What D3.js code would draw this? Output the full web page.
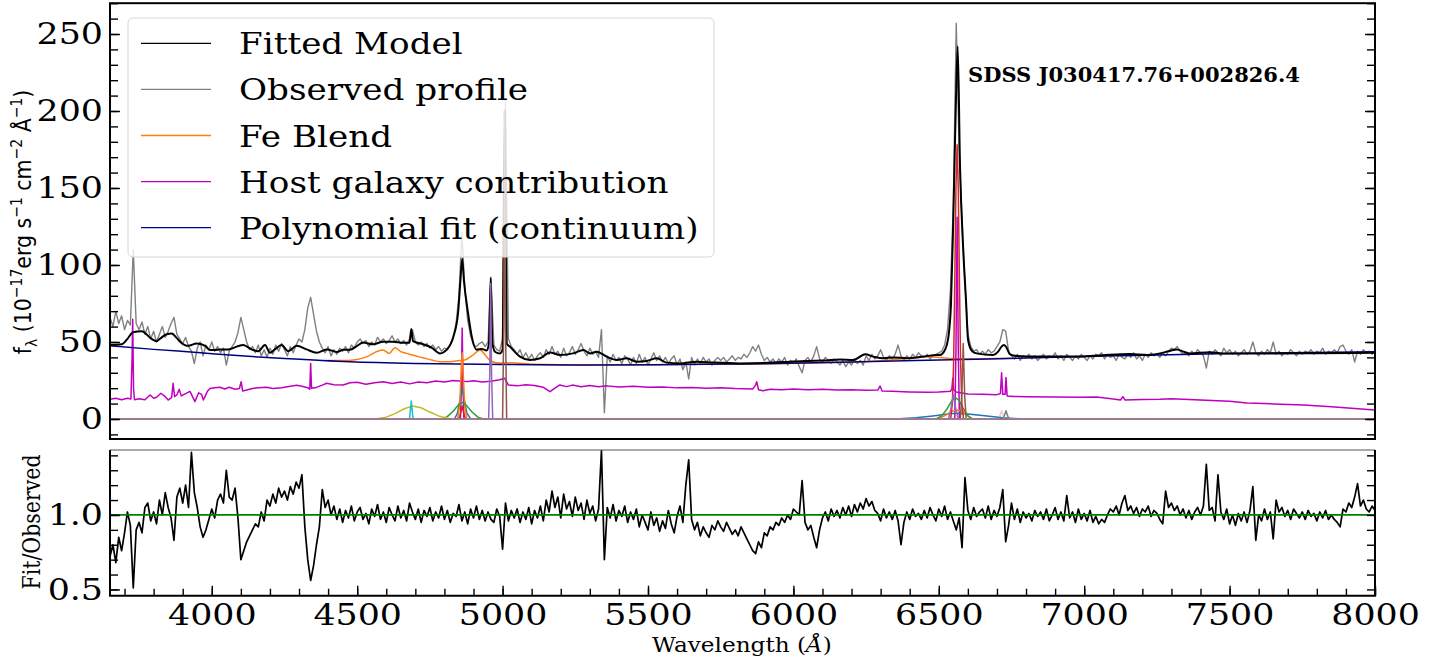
<!DOCTYPE html>
<html>
<head>
<meta charset="utf-8">
<script src="https://cdn.jsdelivr.net/npm/d3@7"></script>
<style>
  body { margin: 0; background: #fff; }
  text { fill: #000; }
</style>
</head>
<body>
<svg id="chart" width="1443" height="664"></svg>
<script>
// ---- Spectrum of SDSS J030417.76+002826.4: observed flux, fitted model and components ----

// Observed flux (1e-17 erg/s/cm2/A), sampled every 10 A from 3650 A
const obsStart = 3650, obsStep = 10;
const observedFlux = [
  66,60,70,62,67,58,64,61,110,62,
  58,63,55,60,52,57,50,55,60,53,
  57,62,66,55,52,49,53,47,44,36,
  46,50,41,48,45,50,44,47,43,46,
  35,44,47,50,56,66,58,50,45,47,
  43,48,41,45,40,46,42,48,44,49,
  45,41,47,43,48,52,50,58,72,79,
  68,57,50,46,43,47,41,45,42,46,
  44,47,43,48,46,50,52,49,51,47,
  50,48,53,50,52,49,51,54,50,52,
  49,51,48,52,58,50,48,50,47,49,
  46,48,45,47,44,46,45,48,53,62,
  80,121,85,64,54,48,47,49,50,47,
  50,92,48,45,44,52,208,52,47,45,
  42,45,40,43,39,42,38,41,43,40,
  45,42,47,42,44,40,46,41,43,47,
  42,45,49,44,41,46,42,44,40,58,
  4,41,37,42,38,40,36,41,39,35,
  40,36,42,37,40,35,39,43,38,41,
  37,40,36,39,41,35,39,32,37,26,
  40,35,39,36,40,37,39,35,38,40,
  38,40,37,39,41,38,40,39,42,40,
  43,47,44,48,42,38,40,37,39,36,
  39,37,40,35,38,36,39,34,30,38,
  40,37,41,47,39,37,40,38,36,39,
  37,35,38,34,37,35,39,36,38,35,
  41,38,42,39,41,45,40,38,41,39,
  42,48,41,38,41,39,42,40,43,41,
  40,42,39,41,42,43,44,48,58,84,
  140,257,175,128,88,55,47,44,45,42,
  44,42,45,43,44,47,50,58,57,44,
  41,39,42,38,41,40,42,39,41,38,
  40,42,39,41,40,43,39,41,38,42,
  40,38,41,39,42,40,38,41,39,42,
  41,43,39,42,40,41,38,42,40,39,
  42,40,43,39,41,38,42,40,43,41,
  42,40,43,41,44,46,45,47,44,42,
  43,41,44,42,45,43,41,33,44,42,
  45,43,41,46,43,45,42,44,41,43,
  45,42,44,50,43,41,44,42,45,43,
  50,42,44,41,43,42,45,43,41,44,
  42,44,43,45,42,44,43,46,42,44,
  43,45,43,47,48,44,42,45,37,44,
  42,45,43,44,42,44
];

// Fit / observed ratio on the same wavelength grid
const fitRatio = [
  0.72,0.80,0.68,0.85,0.76,0.88,1.02,0.93,0.51,0.90,
  0.95,0.88,1.05,1.08,0.96,1.02,0.94,1.10,1.00,1.15,
  1.05,0.98,0.83,1.12,1.18,1.08,1.20,1.05,1.42,1.15,
  1.05,0.92,0.85,0.90,0.97,1.04,0.98,1.10,1.14,1.08,
  1.30,1.12,1.10,1.18,0.98,0.70,0.76,0.82,0.86,0.90,
  0.94,0.92,1.02,0.96,1.10,1.06,1.14,1.08,1.18,1.12,
  1.16,1.10,1.19,1.14,1.22,1.18,1.27,0.92,0.70,0.56,
  0.66,0.80,0.92,1.17,1.05,1.10,1.00,1.06,0.97,1.04,
  0.95,1.03,0.98,1.06,0.96,1.02,1.05,0.97,1.01,0.94,
  1.04,0.99,1.07,0.97,1.02,0.95,1.05,1.00,0.96,1.06,
  0.98,1.03,0.96,1.08,1.02,0.97,1.04,0.95,1.03,0.99,
  1.05,0.96,1.02,0.98,1.06,0.97,1.03,0.95,1.01,0.99,
  1.07,0.96,1.02,0.94,1.04,0.98,1.06,0.97,1.03,0.96,
  1.02,0.97,0.95,1.04,0.99,0.77,1.08,0.96,1.03,0.98,
  1.04,0.95,1.02,0.97,1.05,0.94,1.03,0.98,1.06,0.96,
  1.10,1.02,1.16,1.05,1.12,0.98,1.14,1.04,1.09,0.99,
  1.12,1.03,1.08,0.97,1.10,1.01,1.06,0.96,1.04,1.436,
  0.70,1.05,0.98,1.07,0.96,1.03,0.99,1.06,0.95,1.02,
  0.97,1.04,0.92,1.00,0.95,0.90,1.02,0.93,0.98,0.89,
  0.96,0.91,1.03,0.94,0.88,0.99,1.06,0.95,1.20,1.37,
  0.97,0.90,0.95,0.86,0.92,0.88,0.85,0.93,0.90,0.96,
  0.92,0.89,0.95,0.91,0.87,0.90,0.86,0.92,0.88,0.84,
  0.80,0.76,0.74,0.82,0.78,0.88,0.86,0.92,0.90,0.95,
  0.93,0.98,0.95,1.00,0.97,1.04,1.02,1.00,1.23,0.95,
  0.90,0.93,0.85,0.78,0.90,0.98,1.02,0.96,1.04,0.99,
  1.03,0.98,1.05,1.00,1.06,0.99,1.07,1.02,1.08,1.04,
  1.11,1.06,1.09,1.03,1.01,0.96,1.04,0.98,1.02,0.97,
  1.03,0.96,0.80,0.95,1.02,0.97,1.04,0.99,1.01,0.97,
  1.03,0.98,1.05,1.00,0.96,1.04,0.99,1.06,0.97,1.02,
  0.96,0.90,0.98,0.78,1.25,1.03,0.97,1.05,0.99,1.02,
  1.04,0.98,1.06,0.97,1.03,0.99,1.05,1.17,0.82,0.93,
  1.08,0.97,1.04,0.95,1.02,0.98,1.01,0.96,1.03,0.99,
  1.02,0.97,1.04,0.96,1.00,1.05,0.97,1.02,0.96,1.13,
  0.98,1.02,0.95,1.04,0.97,1.01,0.96,1.03,0.95,0.99,
  0.94,0.97,0.95,1.00,1.04,1.02,1.06,1.00,1.08,1.13,
  1.03,1.06,1.01,1.05,0.99,1.04,1.02,1.06,0.99,1.03,
  1.01,0.97,0.94,1.16,1.05,1.08,1.03,1.06,1.00,1.04,
  0.98,1.03,0.97,1.02,1.05,1.00,1.06,1.34,1.03,1.05,
  0.96,1.27,1.02,0.97,1.04,0.94,1.00,0.93,1.01,0.96,
  1.02,0.95,1.03,1.19,0.83,1.00,0.96,1.04,0.97,1.02,
  0.84,1.10,1.02,1.05,0.99,1.03,0.97,1.04,1.01,0.98,
  1.02,0.97,1.03,0.99,1.01,0.96,1.02,0.98,1.03,0.97,
  1.00,0.97,0.95,0.92,1.04,1.02,1.08,1.05,1.12,1.21,
  1.06,1.10,1.04,1.02,1.06,1.03
];

// Fitted model [wavelength, flux]
const fittedModel = [
  [3650,48],[3690,48.5],[3710,52],[3729,56.3],[3759,57],[3793,52],[3810,50.5],[3821,52],
  [3845,55],[3862,55.5],[3880,52.5],[3891,50.2],[3919,47.5],[3948,49],[3977,47.5],[3994,44.8],
  [4010,44.8],[4028,45.2],[4057,45.2],[4086,47],[4108,48],[4137,45.2],[4160,44],[4183,48],
  [4200,43],[4217,45.2],[4240,48],[4263,44],[4292,47.5],[4326,45.2],[4361,43],[4395,45.2],
  [4430,43.5],[4453,45],[4475,45],[4500,47.5],[4520,49.6],[4555,48.5],[4589,50.2],[4623,50.2],
  [4658,49.5],[4680,49.5],[4686,58.5],[4692,50.5],[4727,48.5],[4756,46.3],[4785,42.6],[4808,45],
  [4831,53.5],[4847,69],[4855,90],[4861,104],[4867,90],[4881,69],[4894,53.5],[4911,45],
  [4928,45.5],[4945,44.5],[4953,49],[4959,91.5],[4965,49],[4975,43.5],[4991,42.6],[5000,45],
  [5007,200],[5014,49],[5025,47],[5060,40.5],[5094,38.3],[5129,39.4],[5163,43.1],[5197,41.6],
  [5242,42.6],[5278,44.8],[5301,42.6],[5324,43.7],[5358,40.5],[5393,38.3],[5427,39.4],[5461,37.2],
  [5496,37.7],[5530,39.4],[5564,36.6],[5610,36.1],[5667,37.2],[5725,36.6],[5816,36.1],[5930,36.6],
  [5988,37.2],[6046,37.7],[6103,37.9],[6160,38.7],[6206,38.3],[6247,42],[6275,40.5],[6309,39.4],
  [6344,40],[6390,39.4],[6447,40.5],[6493,41.6],[6504,41.6],[6521,44.8],[6532,52],[6542,75],
  [6550,131],[6559,207],[6565,242],[6573,164],[6584,110],[6593,79],[6601,51],[6615,44],
  [6630,42.6],[6687,41.6],[6704,43.7],[6716,47],[6724,48],[6731,47],[6745,42],[6768,40.9],
  [6837,40.5],[6986,40.5],[7065,41.4],[7158,42.2],[7215,41.6],[7261,42.6],[7290,44],[7318,45.2],
  [7345,43.5],[7364,42.6],[7433,43.3],[7477,42.6],[7639,42.6],[8000,43]
];

// Fe II blend (sits on the continuum)
const feBlend = [
  [4400,37.9],[4480,38.2],[4540,41],[4570,44],[4589,44.8],[4610,42.6],[4630,46.3],[4650,43.7],
  [4670,42.6],[4690,41.6],[4710,40.5],[4733,39.4],[4756,38.3],[4785,37.2],[4819,37.2],[4850,37.9],
  [4870,38.3],[4899,41.6],[4922,44.8],[4940,41.6],[4960,37.5],[4990,36.3],[5030,36.5],[5100,35.6],
  [5300,35.1],[5600,35.3],[5900,35.9],[6200,37.0],[6300,37.8],[6380,39.2],[6430,40.2],[6470,40.4],
  [6520,39.6],[6600,39.0],[6750,39.4]
];

// Host galaxy template
const hostGalaxy = [
  [3650,12.8],[3670,13.5],[3690,12.5],[3710,13.4],[3722,13],[3726,40],[3728,64.7],[3731,20],
  [3734,12.5],[3750,13.2],[3770,12.5],[3788,15.6],[3800,13.5],[3810,14.1],[3825,16.7],[3840,14.5],
  [3850,12.3],[3862,14],[3867,23.2],[3872,14.5],[3880,15.6],[3888,19.3],[3895,15],[3910,16.5],
  [3925,17.9],[3935,14],[3942,11.3],[3955,17],[3965,16],[3971,12.3],[3978,15],[3985,18],
  [3994,19.8],[4010,20.3],[4028,20.6],[4045,19.5],[4060,20.6],[4080,19.3],[4095,19.8],[4101,24.2],
  [4106,18.2],[4120,18.8],[4140,19.8],[4160,20.3],[4189,20.6],[4210,19.8],[4240,20.3],[4270,21.3],
  [4292,21.9],[4310,21.3],[4330,20.3],[4337,19.3],[4340,36.1],[4343,20],[4360,20.5],[4380,22],
  [4395,23.2],[4420,22.3],[4452,22.1],[4475,23.5],[4500,23.8],[4530,22.5],[4560,23.5],[4590,24.2],
  [4620,23],[4650,24],[4680,22.8],[4710,24],[4740,23.5],[4770,24.6],[4800,24],[4830,25],
  [4860,24.5],[4880,24.3],[4900,24.8],[4930,24],[4960,24.5],[4990,25.5],[5007,26.5],[5020,22],
  [5050,21.5],[5080,22.2],[5110,21.8],[5140,20.6],[5163,17.7],[5180,20],[5197,22.1],[5220,21],
  [5240,22],[5270,21],[5300,21.8],[5330,21],[5360,21.5],[5400,20.8],[5450,21.2],[5500,20.6],
  [5550,20.8],[5600,20.2],[5650,20.5],[5700,20],[5750,20.3],[5800,19.8],[5860,19.5],[5870,22],
  [5874,24.2],[5880,19],[5895,18.3],[5920,19.3],[5960,19],[6000,19.4],[6050,19],[6100,19.3],
  [6150,18.8],[6200,19],[6250,18.6],[6290,18.8],[6298,21.4],[6305,18.2],[6340,18],[6400,17.6],
  [6460,17.4],[6500,17.6],[6540,18],[6545,19.5],[6548,26.4],[6551,19],[6560,17.5],[6600,16.2],
  [6650,16],[6700,15.8],[6712,16.5],[6716,30],[6720,16],[6728,16],[6731,27],[6735,15],
  [6760,14.6],[6800,14.5],[6900,14.3],[6986,14.1],[7043,14.2],[7100,13],[7125,12.3],[7133,14.5],
  [7140,12.4],[7200,12.6],[7260,12.8],[7300,13.2],[7400,12.3],[7500,11.5],[7560,10.4],[7650,9.8],
  [7754,9.1],[7850,8],[7930,6.8],[8000,5.8]
];

// Polynomial continuum
const polyContinuum = [
  [3650,47.6],[3800,45.2],[3950,43.2],[4100,41.0],[4250,39.3],[4475,37.2],[4700,36.1],[5000,35.4],
  [5300,35.1],[5600,35.3],[5900,35.9],[6200,37.0],[6500,38.3],[6800,39.6],[7100,41.0],[7500,42.6],
  [8000,43.6]
];

// Emission-line components
const lineMagenta = [[3650,0],[4855,0],[4858,20],[4861,59],[4864,20],[4867,0],[6555,0],[6559,45],[6563,131],[6567,45],[6571,0],[8000,0]];
const lineBlue = [[3650,0],[4835,0],[4845,4],[4853,12],[4861,20],[4869,12],[4877,4],[4890,0],[6350,0],[6420,0.8],[6480,2],[6530,3.2],[6563,3.7],[6600,3.3],[6650,2.2],[6720,0.8],[6790,0],[8000,0]];
const lineOrange = [[3650,0],[4845,0],[4852,8],[4857,28],[4861,43],[4865,28],[4870,8],[4877,0],[6495,0],[6520,2],[6545,5],[6563,5.8],[6580,5],[6600,2],[6615,0],[8000,0]];
const lineGreen = [[3650,0],[4790,0],[4810,1.5],[4830,5],[4850,9.5],[4861,10.6],[4875,9],[4895,4.5],[4915,1.2],[4935,0],[6490,0],[6510,2],[6530,7],[6545,12],[6556,14],[6570,12],[6585,6.5],[6600,2],[6615,0],[8000,0]];
const lineRed = [[3650,0],[4850,0],[4856,4],[4861,8.5],[4866,4],[4872,0],[6541,0],[6547,11],[6551,37],[6555,89],[6559,150],[6563,178],[6567,150],[6571,89],[6575,37],[6579,11],[6585,0],[8000,0]];
const linePurple = [[3650,0],[4952,0],[4956,30],[4959,88],[4962,30],[4966,0],[6533,0],[6541,6],[6550,16],[6559,6],[6567,0],[8000,0]];
const lineOlive = [[3650,0],[4560,0],[4600,1.2],[4630,3.5],[4660,6.5],[4690,8.5],[4720,7.3],[4750,4.5],[4780,2],[4810,0.5],[4830,0],[8000,0]];
const lineCyan = [[3650,0],[4680,0],[4683,6],[4686,11.7],[4689,6],[4692,0],[8000,0]];
const lineBrown = [[3650,0],[5000,0],[5004,60],[5007,200],[5010,60],[5014,0],[6574,0],[6579,15],[6584,49],[6589,15],[6594,0],[8000,0]];
const linePink = [[3650,0],[6706,0],[6711,2.5],[6716,5.4],[6721,2.5],[6726,0],[8000,0]];
const lineGray = [[3650,0],[6721,0],[6726,2.5],[6731,5.4],[6736,2.5],[6741,0],[8000,0]];

// Axis ticks
const fluxTicks = [0, 50, 100, 150, 200, 250];
const ratioTicks = [0.5, 1.0];
const waveTicks = [4000, 4500, 5000, 5500, 6000, 6500, 7000, 7500, 8000];

const legendLabels = ["Fitted Model", "Observed profile", "Fe Blend", "Host galaxy contribution", "Polynomial fit (continuum)"];
const objectName = "SDSS J030417.76+002826.4";

// ---- layout ----
const svg = d3.select("#chart");
const L = 110, R = 1375;
const topY0 = 3.2, topY1 = 439;
const botY0 = 450, botY1 = 595.7;
const SX = 1.16; // horizontal text stretch

const x = d3.scaleLinear().domain([3650, 8000]).range([L, R]);
const yT = d3.scaleLinear().domain([-13, 270]).range([topY1, topY0]);
const yB = d3.scaleLinear().domain([0.458, 1.436]).range([botY1, botY0]);

const defs = svg.append("defs");
defs.append("clipPath").attr("id", "clipTop").append("rect")
  .attr("x", L).attr("y", topY0).attr("width", R - L).attr("height", topY1 - topY0);
defs.append("clipPath").attr("id", "clipBot").append("rect")
  .attr("x", L).attr("y", botY0).attr("width", R - L).attr("height", botY1 - botY0);

const lineT = d3.line().x(d => x(d[0])).y(d => yT(d[1]));
const smoothT = d3.line().x(d => x(d[0])).y(d => yT(d[1])).curve(d3.curveMonotoneX);
const lineB = d3.line().x(d => x(d[0])).y(d => yB(d[1]));

const gTop = svg.append("g").attr("clip-path", "url(#clipTop)");
const gBot = svg.append("g").attr("clip-path", "url(#clipBot)");

const observedPts = observedFlux.map((f, i) => [obsStart + i * obsStep, f]);
const ratioPts = fitRatio.map((r, i) => [obsStart + i * obsStep, r]);

const colModel = "#000000", colObs = "#808080", colFe = "#ff7f0e", colHost = "#bf00bf", colPoly = "#000080";

gTop.append("path").datum(observedPts).attr("d", lineT)
  .attr("fill", "none").attr("stroke", colObs).attr("stroke-width", 1.4).attr("stroke-linejoin", "round");
gTop.append("path").datum(feBlend).attr("d", smoothT)
  .attr("fill", "none").attr("stroke", colFe).attr("stroke-width", 1.5);
gTop.append("path").datum(hostGalaxy).attr("d", lineT)
  .attr("fill", "none").attr("stroke", colHost).attr("stroke-width", 1.5).attr("stroke-linejoin", "round");
gTop.append("path").datum(polyContinuum).attr("d", smoothT)
  .attr("fill", "none").attr("stroke", colPoly).attr("stroke-width", 1.5);
gTop.append("path").datum(fittedModel).attr("d", smoothT)
  .attr("fill", "none").attr("stroke", colModel).attr("stroke-width", 2).attr("stroke-linejoin", "round");

const components = [
  [lineMagenta, "#bf00bf"], [lineBlue, "#1f77b4"], [lineOrange, "#ff7f0e"], [lineGreen, "#2ca02c"],
  [lineRed, "#d62728"], [linePurple, "#9467bd"], [lineOlive, "#bcbd22"], [lineCyan, "#17becf"],
  [lineBrown, "#8c564b"], [lineGray, "#7f7f7f"], [linePink, "#e377c2"]
];
components.forEach(([pts, c], i) => {
  gTop.append("path").datum(pts).attr("d", lineT)
    .attr("fill", "none").attr("stroke", c).attr("stroke-width", 1.5)
    .attr("stroke-opacity", i === components.length - 1 ? 0.45 : 1).attr("stroke-linejoin", "round");
});

// ratio panel
gBot.append("path").datum(ratioPts).attr("d", lineB)
  .attr("fill", "none").attr("stroke", "#000").attr("stroke-width", 1.7).attr("stroke-linejoin", "round");
gBot.append("path").datum([[3650, 1], [8000, 1]]).attr("d", lineB)
  .attr("fill", "none").attr("stroke", "#008000").attr("stroke-width", 1.8);

// ---- axes ----
const tickFont = "DejaVu Serif";
function styleAxis(g) {
  g.select(".domain").remove();
  g.selectAll(".tick line").attr("stroke", "#000").attr("stroke-width", 1.4);
  g.selectAll(".tick text").attr("font-family", tickFont).attr("font-size", 30).attr("fill", "#000")
    .each(function () {
      const t = d3.select(this);
      const tx = +t.attr("x") || 0, ty = +t.attr("y") || 0;
      t.attr("x", 0).attr("y", 0).attr("transform", `translate(${tx},${ty}) scale(${SX},1)`);
    });
}
const minorFlux = d3.range(-10, 271, 10);
svg.append("g").attr("transform", `translate(${L},0)`)
  .call(d3.axisLeft(yT).tickValues(minorFlux).tickSize(-8).tickFormat("")).call(styleAxis);
svg.append("g").attr("transform", `translate(${L},0)`)
  .call(d3.axisLeft(yT).tickValues(fluxTicks).tickSize(-10).tickPadding(7).tickFormat(d3.format("d"))).call(styleAxis);
svg.append("g").attr("transform", `translate(${R},0)`)
  .call(d3.axisRight(yT).tickValues(minorFlux).tickSize(-8).tickFormat("")).call(styleAxis);
svg.append("g").attr("transform", `translate(${R},0)`)
  .call(d3.axisRight(yT).tickValues(fluxTicks).tickSize(-10).tickFormat("")).call(styleAxis);

const minorRatio = d3.range(5, 15).map(v => v / 10);
svg.append("g").attr("transform", `translate(${L},0)`)
  .call(d3.axisLeft(yB).tickValues(minorRatio).tickSize(-8).tickFormat("")).call(styleAxis);
svg.append("g").attr("transform", `translate(${L},0)`)
  .call(d3.axisLeft(yB).tickValues(ratioTicks).tickSize(-10).tickPadding(7).tickFormat(d3.format(".1f"))).call(styleAxis);
svg.append("g").attr("transform", `translate(${R},0)`)
  .call(d3.axisRight(yB).tickValues(minorRatio).tickSize(-8).tickFormat("")).call(styleAxis);

const minorWave = d3.range(3700, 8001, 100);
svg.append("g").attr("transform", `translate(0,${botY1})`)
  .call(d3.axisBottom(x).tickValues(minorWave).tickSize(-7).tickFormat("")).call(styleAxis);
svg.append("g").attr("transform", `translate(0,${botY1})`)
  .call(d3.axisBottom(x).tickValues(waveTicks).tickSize(-10).tickPadding(8).tickFormat(d3.format("d"))).call(styleAxis);

// frames
svg.append("rect").attr("x", L).attr("y", topY0).attr("width", R - L).attr("height", topY1 - topY0)
  .attr("fill", "none").attr("stroke", "#000").attr("stroke-width", 2);
svg.append("line").attr("x1", L).attr("x2", R).attr("y1", botY0).attr("y2", botY0)
  .attr("stroke", "#555").attr("stroke-width", 1.2);
svg.append("path").attr("d", `M${L},${botY0}V${botY1}H${R}V${botY0}`)
  .attr("fill", "none").attr("stroke", "#000").attr("stroke-width", 2);

// ---- legend ----
const legend = svg.append("g");
legend.append("rect").attr("x", 128).attr("y", 18).attr("width", 586).attr("height", 239).attr("rx", 5)
  .attr("fill", "#fff").attr("fill-opacity", 0.8).attr("stroke", "#d6d6d6").attr("stroke-width", 1);
const legendColors = [colModel, colObs, colFe, colHost, colPoly];
legendLabels.forEach((lab, i) => {
  const yy = 43.3 + i * 46.1;
  legend.append("line").attr("x1", 141).attr("x2", 211).attr("y1", yy).attr("y2", yy)
    .attr("stroke", legendColors[i]).attr("stroke-width", 1.3);
  legend.append("text").attr("transform", `translate(239,${yy + 11}) scale(${SX - 0.02},1)`).text(lab)
    .attr("font-family", "DejaVu Serif").attr("font-size", 30);
});

// ---- annotations and labels ----
svg.append("text").attr("x", 968).attr("y", 82).text(objectName)
  .attr("font-family", "DejaVu Serif").attr("font-weight", "bold").attr("font-size", 21);

const yl = svg.append("text").attr("transform", `translate(31,222) scale(${SX},1) rotate(-90)`)
  .attr("text-anchor", "middle").attr("font-family", "DejaVu Sans").attr("font-size", 20.5);
yl.append("tspan").text("f");
yl.append("tspan").attr("font-size", 14).attr("dy", 5).text("λ");
yl.append("tspan").attr("dy", -5).text(" (10");
yl.append("tspan").attr("font-size", 14).attr("dy", -8).text("−17");
yl.append("tspan").attr("dy", 8).text("erg s");
yl.append("tspan").attr("font-size", 14).attr("dy", -8).text("−1");
yl.append("tspan").attr("dy", 8).text(" cm");
yl.append("tspan").attr("font-size", 14).attr("dy", -8).text("−2");
yl.append("tspan").attr("dy", 8).text(" Å");
yl.append("tspan").attr("font-size", 14).attr("dy", -8).text("−1");
yl.append("tspan").attr("dy", 8).text(")");

svg.append("text").attr("transform", `translate(40,522) scale(${SX},1) rotate(-90)`)
  .attr("text-anchor", "middle").attr("font-family", "DejaVu Serif").attr("font-size", 20.5)
  .text("Fit/Observed");

const xl = svg.append("text").attr("transform", `translate(742,652) scale(${SX},1)`).attr("text-anchor", "middle")
  .attr("font-family", "DejaVu Serif").attr("font-size", 20);
xl.append("tspan").text("Wavelength (");
xl.append("tspan").attr("font-style", "italic").text("Å");
xl.append("tspan").text(")");
</script>
</body>
</html>
